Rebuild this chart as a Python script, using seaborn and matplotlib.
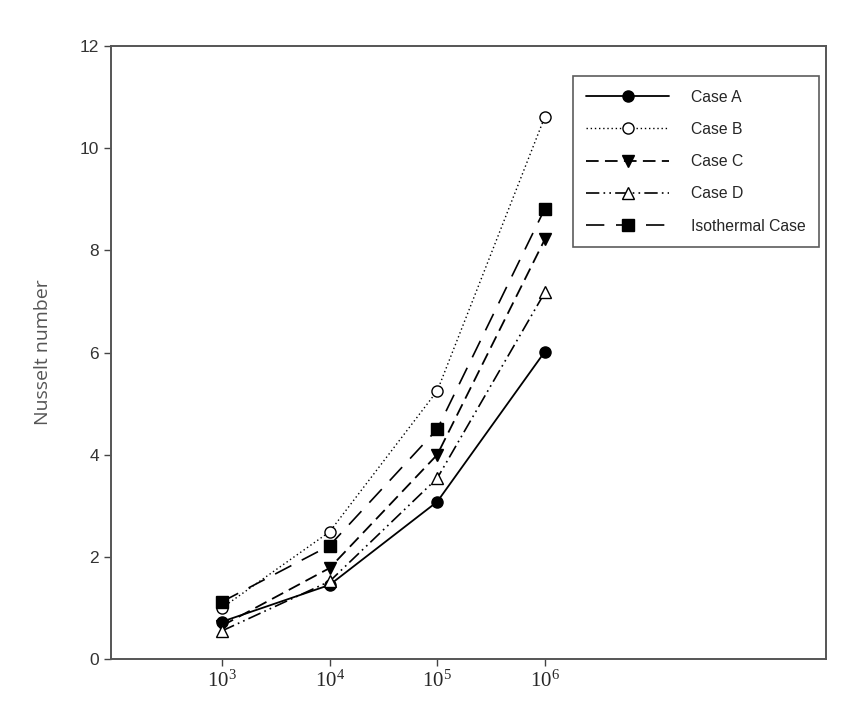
import numpy as np
import pandas as pd
import matplotlib
matplotlib.use("Agg")
import matplotlib.pyplot as plt
import seaborn as sns

# Rayleigh numbers and Nusselt values
rayleigh = [1e3, 1e4, 1e5, 1e6]
case_a = [0.73, 1.45, 3.08, 6.02]
case_b = [1.00, 2.49, 5.25, 10.62]
case_c = [0.65, 1.78, 4.00, 8.22]
case_d = [0.55, 1.52, 3.54, 7.18]
isothermal = [1.12, 2.22, 4.50, 8.82]

labels = ["Case A", "Case B", "Case C", "Case D", "Isothermal Case"]
series = [case_a, case_b, case_c, case_d, isothermal]

styles = {
    "Case A": dict(linestyle="-", marker="o", mfc="black", lw=1.3),
    "Case B": dict(linestyle=(0, (1, 2)), marker="o", mfc="white", lw=1.0),
    "Case C": dict(linestyle=(0, (7, 3.5)), marker="v", mfc="black", lw=1.3),
    "Case D": dict(linestyle=(0, (8, 2.5, 1, 2.5, 1, 2.5)), marker="^", mfc="white", lw=1.2),
    "Isothermal Case": dict(linestyle=(0, (11, 7)), marker="s", mfc="black", lw=1.2),
}

df = pd.DataFrame({
    "Ra": rayleigh * len(labels),
    "Nu": sum(series, []),
    "case": np.repeat(labels, len(rayleigh)),
})

sns.set_style("white")
plt.rcParams["font.family"] = ["Liberation Sans", "DejaVu Sans"]
plt.rcParams["mathtext.fontset"] = "stix"

fig = plt.figure(figsize=(8.45, 7.21), dpi=100)
ax = fig.add_axes([0.1314, 0.086, 0.846, 0.85])
ax.set_xscale("log")

for name in labels:
    sub = df[df["case"] == name]
    st = styles[name]
    sns.lineplot(data=sub, x="Ra", y="Nu", ax=ax, color="black",
                 linestyle=st["linestyle"], linewidth=st["lw"],
                 marker=st["marker"], markersize=8, markerfacecolor=st["mfc"],
                 markeredgecolor="black", markeredgewidth=1.0, label=name)

ax.set_xlim(10 ** 1.97, 10 ** 8.61)
ax.set_ylim(0, 12)
ax.set_xticks(rayleigh)
ax.set_xticklabels([r"$\mathregular{10^{3}}$", r"$\mathregular{10^{4}}$",
                    r"$\mathregular{10^{5}}$", r"$\mathregular{10^{6}}$"],
                   fontfamily="Liberation Serif", fontsize=15)
ax.xaxis.set_minor_locator(matplotlib.ticker.NullLocator())
ax.set_yticks([0, 2, 4, 6, 8, 10, 12])
ax.tick_params(axis="y", labelsize=12.5, labelcolor="#333333")
ax.tick_params(axis="both", direction="out", length=5, width=1.0,
               color="#444444", bottom=True, left=True, top=False, right=False)

for sp in ax.spines.values():
    sp.set_color("#555555")
    sp.set_linewidth(1.4)

ax.set_xlabel("")
ax.set_ylabel("Nusselt number", fontfamily="Open Sans", fontsize=14,
              color="#555555", labelpad=20)

leg = ax.legend(loc="upper left", bbox_to_anchor=(0.646, 0.951),
                frameon=True, fancybox=False, edgecolor="#333333",
                fontsize=11.3, handlelength=5.3, handletextpad=1.4,
                labelspacing=1.1, borderpad=0.85, borderaxespad=0)
leg.get_frame().set_linewidth(1.2)

fig.savefig("out.png", dpi=100)
